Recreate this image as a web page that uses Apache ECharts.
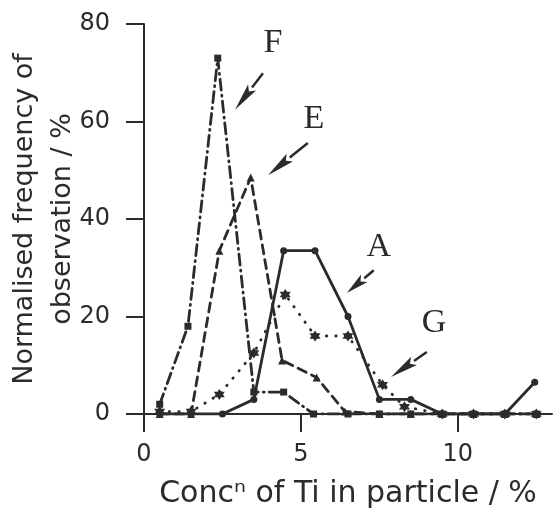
<!DOCTYPE html>
<html>
<head>
<meta charset="utf-8">
<script src="https://cdn.jsdelivr.net/npm/echarts@6/dist/echarts.min.js"></script>
<style>
  html, body { margin: 0; padding: 0; background: #fff; }
  #chart { width: 553px; height: 511px; }
</style>
</head>
<body>
<div id="chart"></div>
<script>
// values (x = Ti conc. %, y = normalised frequency %)
const aX = [0.5, 1.5, 2.5, 3.5, 4.45, 5.45, 6.5, 7.5, 8.5, 9.5, 10.5, 11.5, 12.45]
const aY = [0, 0, 0, 3, 33.5, 33.5, 20, 3, 3, 0, 0, 0, 6.5]
const eX = [0.5, 1.5, 2.4, 3.4, 4.4, 5.5, 6.4, 7.5, 8.5, 9.5, 10.5, 11.5, 12.5]
const eY = [0, 0, 33.5, 48.5, 11, 7.5, 0.5, 0, 0, 0, 0, 0, 0]
const fX = [0.5, 1.4, 2.35, 3.5, 4.45, 5.4, 6.5, 7.5, 8.5, 9.5, 10.5, 11.5, 12.5]
const fY = [2, 18, 73, 4.5, 4.5, 0, 0, 0, 0, 0, 0, 0, 0]
const gX = [0.5, 1.5, 2.4, 3.5, 4.5, 5.45, 6.5, 7.6, 8.3, 9.5, 10.5, 11.5, 12.5]
const gY = [0.5, 0.5, 4, 12.5, 24.5, 16, 16, 6, 1.5, 0, 0, 0, 0]

const xTicks = [0, 5, 10]
const yTicks = [0, 20, 40, 60, 80]

// curve labels and their arrows (data coords)
const labelNames = ['F', 'E', 'A', 'G']
const labelPos = [[4.11, 76.1], [5.41, 60.5], [7.48, 34.3], [9.24, 18.7]]
const arrowFrom = [[3.79, 69.9], [5.22, 55.6], [7.32, 29.5], [9.01, 12.7]]
const arrowTo = [[2.90, 62.4], [3.95, 49.0], [6.46, 24.8], [7.87, 7.6]]

const ink = '#2b2b2b'
const star6 = 'path://M0,-10L2.9,-5L8.7,-5L5.8,0L8.7,5L2.9,5L0,10L-2.9,5L-8.7,5L-5.8,0L-8.7,-5L-2.9,-5Z'

const pairs = (xs, ys) => xs.map((x, i) => [x, ys[i]])

const chart = echarts.init(document.getElementById('chart'), null, { renderer: 'canvas' })

function lineSeries(name, data, type, symbol, size) {
  return {
    name,
    type: 'line',
    data,
    symbol,
    symbolSize: size,
    showSymbol: true,
    animation: false,
    itemStyle: { color: ink },
    lineStyle: { color: ink, width: 2.8, type, cap: 'round' },
    z: 3
  }
}

const option = {
  backgroundColor: '#fff',
  animation: false,
  grid: { left: 144, right: 1, top: 24, bottom: 97, outerBoundsMode: 'none' },
  xAxis: {
    type: 'value',
    min: 0,
    max: 13,
    interval: 5,
    name: 'Concⁿ of Ti in particle / %',
    nameLocation: 'middle',
    nameGap: 65,
    nameMoveOverlap: false,
    nameTextStyle: { color: ink, fontSize: 30, fontFamily: 'DejaVu Sans' },
    axisLine: { show: true, lineStyle: { color: ink, width: 2 } },
    axisTick: { show: true, inside: false, length: 18, customValues: xTicks, lineStyle: { color: ink, width: 2 } },
    axisLabel: { color: ink, fontSize: 24, fontFamily: 'DejaVu Sans', margin: 29, customValues: xTicks },
    splitLine: { show: false }
  },
  yAxis: {
    type: 'value',
    min: 0,
    max: 80,
    interval: 20,
    name: 'Normalised frequency of\nobservation / %',
    nameLocation: 'middle',
    nameRotate: 90,
    nameGap: 62,
    nameMoveOverlap: false,
    nameTextStyle: { color: ink, fontSize: 27, fontFamily: 'DejaVu Sans', lineHeight: 38, align: 'center' },
    axisLine: { show: true, lineStyle: { color: ink, width: 2 } },
    axisTick: { show: true, inside: false, length: 18, lineStyle: { color: ink, width: 2 } },
    axisLabel: { color: ink, fontSize: 24, fontFamily: 'DejaVu Sans', margin: 34, customValues: yTicks },
    splitLine: { show: false }
  },
  series: [
    lineSeries('A', pairs(aX, aY), 'solid', 'circle', 7),
    lineSeries('E', pairs(eX, eY), [9, 6], 'triangle', 8),
    lineSeries('F', pairs(fX, fY), [11, 5, 1, 5], 'rect', 7),
    lineSeries('G', pairs(gX, gY), [0.5, 9], star6, 11)
  ]
}

chart.setOption(option)

// labels + arrows placed through the chart's own coordinate system
function arrowGraphics() {
  const els = []
  labelNames.forEach((name, i) => {
    const p = chart.convertToPixel({ gridIndex: 0 }, labelPos[i])
    els.push({
      type: 'text',
      x: p[0],
      y: p[1],
      style: {
        text: name,
        fill: ink,
        font: '34px "Liberation Serif", "DejaVu Serif", serif',
        align: 'center',
        verticalAlign: 'middle'
      },
      z: 10
    })
    const a = chart.convertToPixel({ gridIndex: 0 }, arrowFrom[i])
    const b = chart.convertToPixel({ gridIndex: 0 }, arrowTo[i])
    const dx = b[0] - a[0], dy = b[1] - a[1]
    const len = Math.hypot(dx, dy)
    const ux = dx / len, uy = dy / len
    const headLen = Math.min(28, len * 0.65)
    const bx = b[0] - ux * headLen, by = b[1] - uy * headLen
    const hw = 5
    els.push({
      type: 'line',
      shape: { x1: a[0], y1: a[1], x2: bx, y2: by },
      style: { stroke: ink, lineWidth: 2.5 },
      z: 10
    })
    els.push({
      type: 'polygon',
      shape: {
        points: [
          [b[0], b[1]],
          [bx - uy * hw, by + ux * hw],
          [bx + ux * 5, by + uy * 5],
          [bx + uy * hw, by - ux * hw]
        ]
      },
      style: { fill: ink },
      z: 10
    })
  })
  return els
}

chart.setOption({ graphic: arrowGraphics() })
</script>
</body>
</html>
